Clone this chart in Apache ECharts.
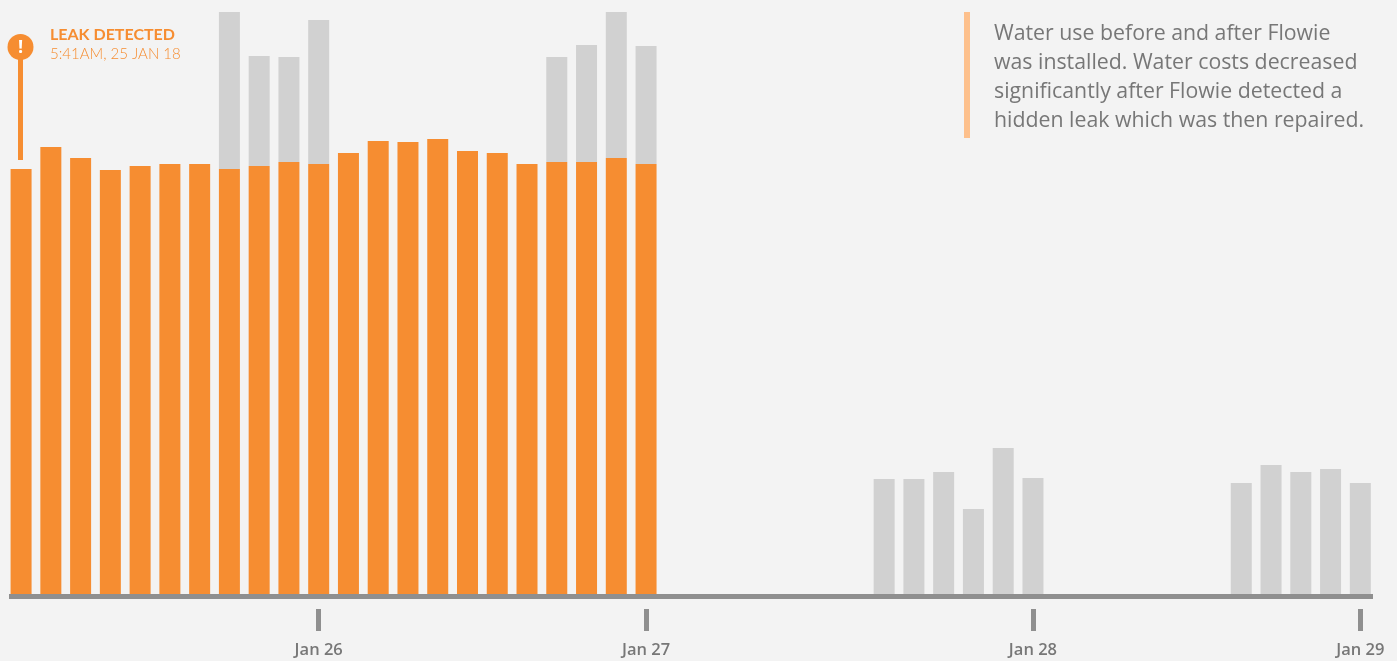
<!DOCTYPE html>
<html><head><meta charset="utf-8">
<style>html,body{margin:0;padding:0;background:#f3f3f3}#c{width:1397px;height:661px}</style>
<script src="https://cdn.jsdelivr.net/npm/echarts@6/dist/echarts.min.js"></script>
</head><body><div id="c"></div>
<script>
const tickLabels = {10:'Jan 26',21:'Jan 27',34:'Jan 28',45:'Jan 29'};
const categories = Array.from({length:46},(_,i)=>tickLabels[i]||('#'+i));
const leakUse = [425,447,436,424,428,430,430,425,428,432,430,441,453,452,455,443,441,430,432,432,436,430];
const leakExtra = {7:157,8:110,9:105,10:144,18:105,19:117,20:146,21:118};
const afterUse = {29:115,30:115,31:122,32:85,33:146,34:116,41:111,42:129,43:122,44:125,45:111};
const orange = categories.map((_,i)=>i<leakUse.length?leakUse[i]:null);
const gray = categories.map((_,i)=>leakExtra[i]??afterUse[i]??null);
const note = ['Water use before and after Flowie','was installed. Water costs decreased','significantly after Flowie detected a','hidden leak which was then repaired.'];

const chart = echarts.init(document.getElementById('c'),null,{renderer:'canvas'});
const isTick = (i)=>!!tickLabels[i];
chart.setOption({
  backgroundColor:'#f3f3f3',
  animation:false,
  grid:[
    {left:6.2,top:0,width:1369,height:594},
    {left:9,top:0,width:1364,height:594}
  ],
  xAxis:[
    {type:'category',gridIndex:0,data:categories,offset:15,boundaryGap:true,
     axisLine:{show:false,onZero:false},
     axisTick:{show:true,alignWithLabel:true,interval:(i)=>isTick(i),length:22,lineStyle:{color:'#8f8f8f',width:5,cap:'butt'}},
     axisLabel:{show:true,interval:(i)=>isTick(i),margin:33,color:'#777777',fontFamily:'"Open Sans"',fontSize:16.5,fontWeight:600,hideOverlap:false},
     splitLine:{show:false}},
    {type:'value',gridIndex:1,min:0,max:1,offset:2.5,
     axisLine:{show:true,onZero:false,lineStyle:{color:'#8f8f8f',width:5,cap:'butt'}},
     axisTick:{show:false},axisLabel:{show:false},splitLine:{show:false}}
  ],
  yAxis:[
    {type:'value',gridIndex:0,min:0,max:594,show:false},
    {type:'value',gridIndex:1,min:0,max:594,show:false}
  ],
  series:[
    {name:'Water use',type:'bar',stack:'u',barWidth:21,data:orange,itemStyle:{color:'#f68d31'},silent:true},
    {name:'Other use',type:'bar',stack:'u',barWidth:21,data:gray,itemStyle:{color:'#d1d1d1'},silent:true}
  ],
  graphic:[
    {type:'rect',shape:{x:964,y:12,width:6,height:126},style:{fill:'#fdc08c'}},
    ...note.map((t,i)=>({type:'text',x:994,y:33.5+i*29,style:{text:t,fill:'#777777',font:'21.3px "Open Sans"',textVerticalAlign:'middle'}})),
    {type:'rect',shape:{x:18,y:58,width:5,height:102},style:{fill:'#f68d31'}},
    {type:'circle',shape:{cx:20.5,cy:47,r:13},style:{fill:'#f68d31'}},
    {type:'text',x:20.5,y:47.5,style:{text:'!',fill:'#ffffff',font:'bold 18px "Open Sans"',textAlign:'center',textVerticalAlign:'middle'}},
    {type:'text',x:50,y:35,style:{text:'LEAK DETECTED',fill:'#f68d31',font:'bold 16px Lato',textVerticalAlign:'middle'}},
    {type:'text',x:50,y:54,style:{text:'5:41AM, 25 JAN 18',fill:'#f68d31',font:'300 15px Lato',textVerticalAlign:'middle'}}
  ]
});
</script></body></html>
